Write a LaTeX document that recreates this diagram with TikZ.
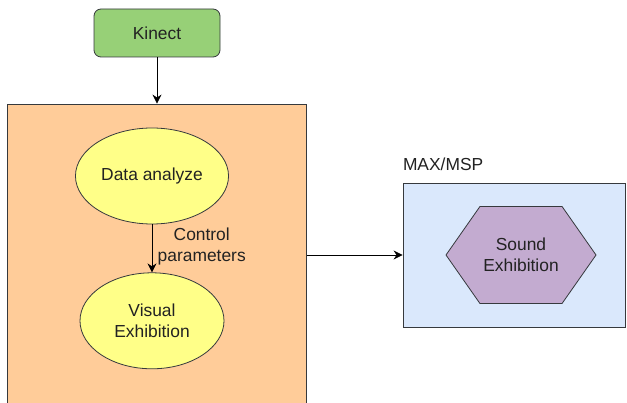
\documentclass[tikz,border=0pt]{standalone}
\usepackage{fontspec}
\setmainfont{Liberation Sans}
\usetikzlibrary{positioning,arrows.meta,shapes.geometric,shapes.symbols}

\definecolor{kinectgreen}{HTML}{97D077}
\definecolor{apporange}{HTML}{FFCC99}
\definecolor{blobyellow}{HTML}{FFFF88}
\definecolor{maxblue}{HTML}{DAE8FC}
\definecolor{soundpurple}{HTML}{C3ABD0}
\definecolor{edgegray}{HTML}{36393D}
\definecolor{txtgray}{HTML}{222222}

\begin{document}
\begin{tikzpicture}[x=1pt, y=-1pt,
    font=\fontsize{17.4}{21}\selectfont, line width=0.8pt,
    every node/.style={text=txtgray},
    kinectbox/.style={rectangle, rounded corners=7pt, draw=edgegray, fill=kinectgreen,
      minimum width=126pt, minimum height=48pt},
    panel/.style={rectangle, draw=edgegray, inner sep=0pt},
    blob/.style={ellipse, draw=edgegray, fill=blobyellow, align=center,
      minimum width=144pt, minimum height=96pt},
    hexa/.style={signal, signal to=east and west, signal pointer angle=110,
      draw=edgegray, fill=soundpurple, align=center,
      minimum width=145pt, minimum height=97pt},
    link/.style={-{Stealth[length=9pt,width=9pt]}, draw=black}]
  \useasboundingbox (0,0) rectangle (627,403);
  \clip (0,0) rectangle (627,403);

  \node[kinectbox] (kinect) at (157,33) {Kinect};
  \node[panel, fill=apporange, minimum width=299pt, minimum height=302pt] (app) at (157,255) {};
  \node[blob] (analyze) at (152,176) {Data analyze};
  \node[blob, below=48pt of analyze] (visual) {Visual\\Exhibition};

  \node[panel, fill=maxblue, minimum width=222pt, minimum height=144pt] (max) at (514,255) {};
  \node[hexa] (sound) at (521,255) {Sound\\Exhibition};
  \node[anchor=base west, inner sep=0pt] (maxlabel) at ([yshift=12pt]max.north west) {MAX/MSP};

  \draw[link] (kinect) -- (app);
  \draw[link] (analyze) -- node[right=2pt, yshift=2pt, align=center] (ctrl) {Control\\parameters} (visual);
  \draw[link] (app) -- (max);
\end{tikzpicture}
\end{document}
